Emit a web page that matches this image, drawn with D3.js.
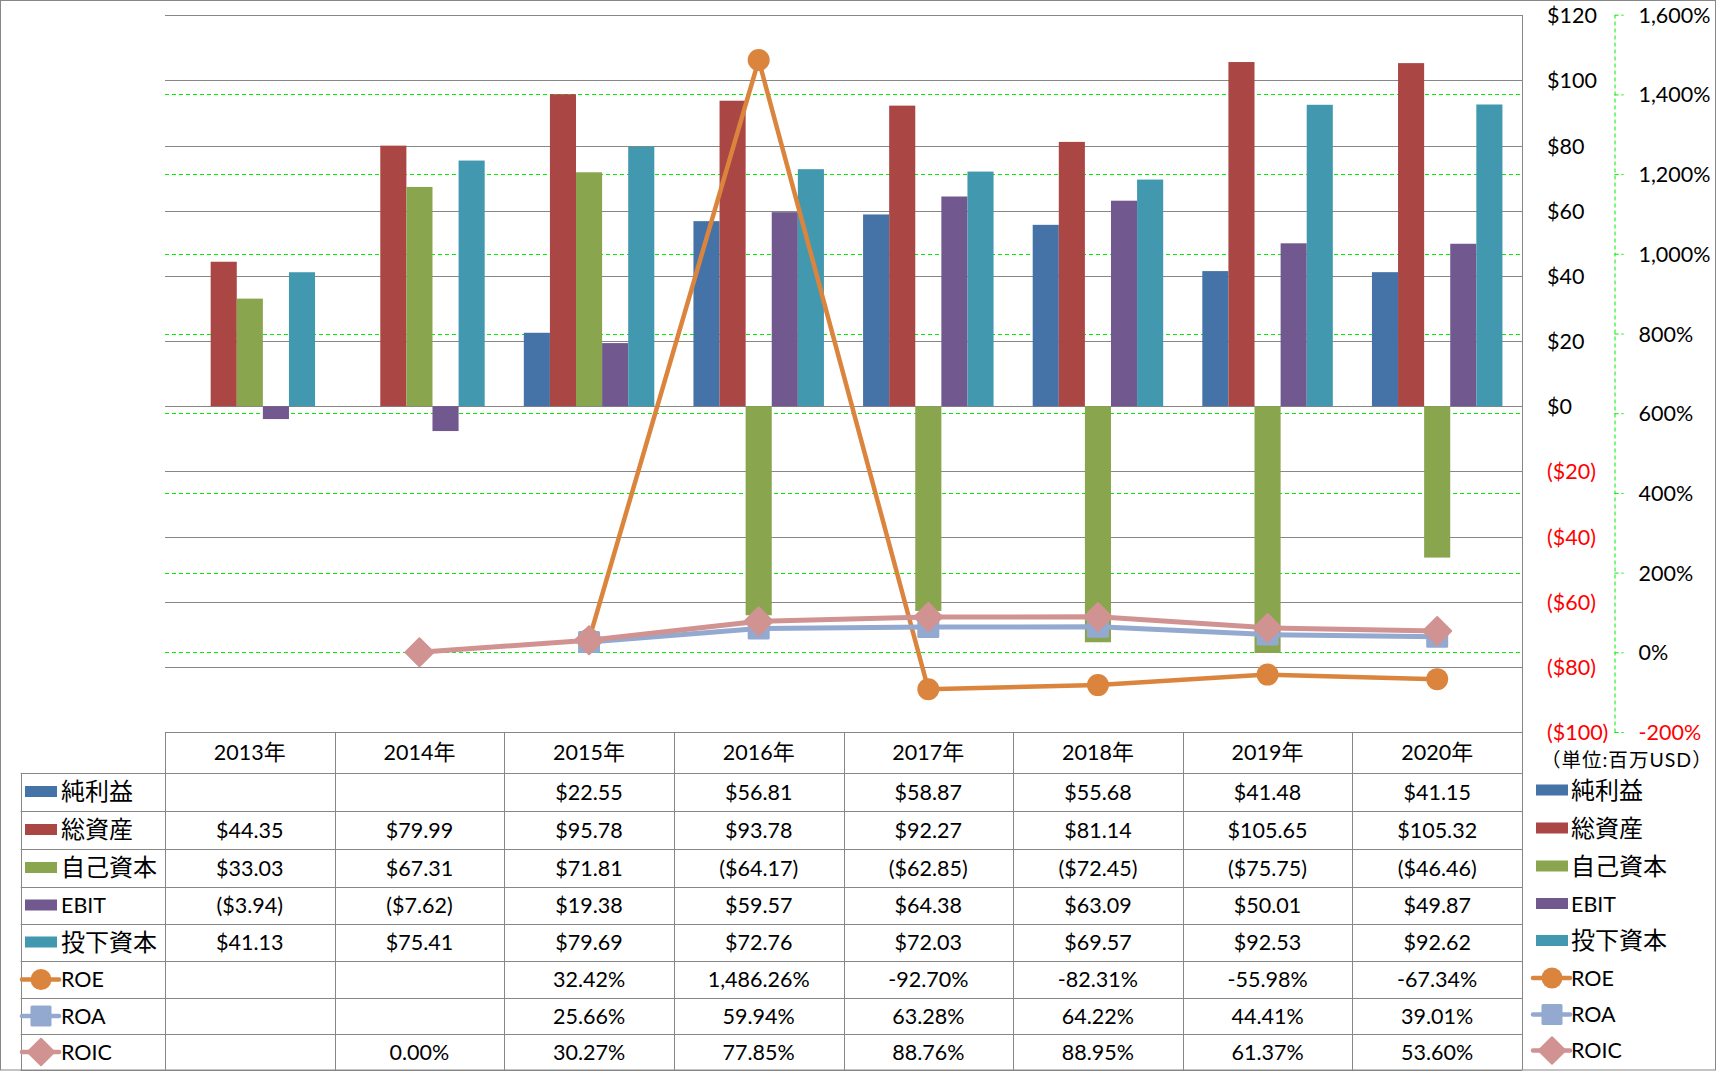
<!DOCTYPE html>
<html><head><meta charset="utf-8">
<script src="https://cdn.jsdelivr.net/npm/d3@7"></script>
<style>
html,body{margin:0;padding:0;background:#fff;}
svg{display:block;}
text{font-family:Lato,"Noto Sans CJK JP",sans-serif;fill:#000;}
</style></head><body>
<svg id="chart" width="1716" height="1071"></svg>
<script>
// ---------------- data ----------------
const years = ["2013","2014","2015","2016","2017","2018","2019","2020"];
const yearSuffix = "年";
const barSeries = ["純利益","総資産","自己資本","EBIT","投下資本"];
const lineSeries = ["ROE","ROA","ROIC"];
const netIncome       = [null, null, 22.55, 56.81, 58.87, 55.68, 41.48, 41.15];
const totalAssets     = [44.35, 79.99, 95.78, 93.78, 92.27, 81.14, 105.65, 105.32];
const equity          = [33.03, 67.31, 71.81, -64.17, -62.85, -72.45, -75.75, -46.46];
const ebit            = [-3.94, -7.62, 19.38, 59.57, 64.38, 63.09, 50.01, 49.87];
const investedCapital = [41.13, 75.41, 79.69, 72.76, 72.03, 69.57, 92.53, 92.62];
const roe  = [null, null, 32.42, 1486.26, -92.70, -82.31, -55.98, -67.34];
const roa  = [null, null, 25.66, 59.94, 63.28, 64.22, 44.41, 39.01];
const roic = [null, 0.00, 30.27, 77.85, 88.76, 88.95, 61.37, 53.60];
const yTicks  = [120, 100, 80, 60, 40, 20, 0, -20, -40, -60, -80, -100];
const y2Ticks = [1600, 1400, 1200, 1000, 800, 600, 400, 200, 0, -200];
const unitLabel = "（単位:百万USD）";

// ---------------- styling / layout ----------------
const barValues = [netIncome, totalAssets, equity, ebit, investedCapital];
const lineValues = [roe, roa, roic];
const barColors = ["#4572A7", "#AA4643", "#89A54E", "#71588F", "#4198AF"];
const lineColors = ["#DB843D", "#93A9CF", "#D19392"];
const markerTypes = ["circle", "square", "diamond"];
const lineWidths = [4.5, 5, 5];
const GRAY = "#878787";
const GREEN = "#00EE00";
const FS = 21.5, FS_JP = 24;

const svg = d3.select("#chart");
const W = 1716, H = 1071;
const plotL = 165, plotR = 1522, plotT = 15.3, plotB = 732;
const rowEdges = [732, 773, 811, 849, 887, 924, 961, 998, 1034, 1070];
const legendL = 20.7;

const x = d3.scaleBand().domain(years).range([plotL, plotR]).padding(0);
const x1 = d3.scaleBand().domain(barSeries).range([0, x.bandwidth()]).paddingInner(0).paddingOuter(0.75);
const y = d3.scaleLinear().domain([-100, 120]).range([plotB, plotT]);
const y2 = d3.scaleLinear().domain([-200, 1600]).range([plotB, plotT - 0.6]);

const f2 = d3.format(",.2f");
const money = v => v == null ? "" : (v < 0 ? "($" + f2(-v) + ")" : "$" + f2(v));
const pct = v => v == null ? "" : (v < 0 ? "-" + f2(-v) : f2(v)) + "%";

// outer border
svg.append("rect").attr("x", 0.5).attr("y", 0.5).attr("width", W - 1).attr("height", H - 1.5)
  .attr("fill", "#fff").attr("stroke", GRAY);

// gray gridlines
svg.append("g").selectAll("line").data(yTicks).join("line")
  .attr("x1", plotL).attr("x2", plotR)
  .attr("y1", d => Math.round(y(d)) + 0.5).attr("y2", d => Math.round(y(d)) + 0.5)
  .attr("stroke", GRAY).attr("stroke-width", 1);

// green dashed secondary gridlines
svg.append("g").selectAll("line").data(y2Ticks.filter(d => d < 1600 && d > -200)).join("line")
  .attr("x1", plotL).attr("x2", plotR)
  .attr("y1", d => Math.round(y2(d)) + 0.5).attr("y2", d => Math.round(y2(d)) + 0.5)
  .attr("stroke", GREEN).attr("stroke-width", 1).attr("stroke-dasharray", "4,3");

// bars
const barData = [];
years.forEach((yr, i) => barSeries.forEach((s, j) => {
  const v = barValues[j][i];
  if (v != null) barData.push({yr, s, v, c: barColors[j]});
}));
svg.append("g").selectAll("rect").data(barData).join("rect")
  .attr("x", d => x(d.yr) + x1(d.s))
  .attr("width", x1.bandwidth())
  .attr("y", d => y(Math.max(0, d.v)))
  .attr("height", d => Math.abs(y(d.v) - y(0)))
  .attr("fill", d => d.c);

// marker drawing helper
function marker(g, type, color, cx, cy, scale) {
  scale = scale || 1;
  if (type === "circle") {
    g.append("circle").attr("cx", cx).attr("cy", cy).attr("r", 11 * scale).attr("fill", color);
  } else if (type === "square") {
    const s = 19 * scale;
    g.append("rect").attr("x", cx - s / 2).attr("y", cy - s / 2).attr("width", s).attr("height", s)
      .attr("fill", color).attr("stroke", color).attr("stroke-width", 3).attr("stroke-linejoin", "round");
  } else {
    const r = 14 * scale;
    g.append("path").attr("d", `M${cx},${cy - r}L${cx + r},${cy}L${cx},${cy + r}L${cx - r},${cy}Z`)
      .attr("fill", color).attr("stroke", color).attr("stroke-width", 2).attr("stroke-linejoin", "round");
  }
}

// lines
const cx = yr => x(yr) + x.bandwidth() / 2;
lineSeries.forEach((s, k) => {
  const pts = years.map((yr, i) => ({yr, v: lineValues[k][i]}));
  const g = svg.append("g");
  const line = d3.line().defined(d => d.v != null).x(d => cx(d.yr)).y(d => y2(d.v));
  g.append("path").datum(pts).attr("d", line).attr("fill", "none")
    .attr("stroke", lineColors[k]).attr("stroke-width", lineWidths[k]).attr("stroke-linejoin", "round");
  pts.filter(d => d.v != null).forEach(d => marker(g, markerTypes[k], lineColors[k], cx(d.yr), y2(d.v)));
});

// primary axis (right)
const yAxisG = svg.append("g").attr("transform", `translate(${plotR},0)`)
  .call(d3.axisRight(y).tickValues(yTicks).tickSize(0).tickPadding(25)
    .tickFormat(v => v < 0 ? "($" + (-v) + ")" : "$" + v));
yAxisG.select(".domain").remove();
yAxisG.selectAll("text").attr("font-size", FS).attr("font-family", "Lato")
  .style("fill", d => d < 0 ? "#FF0000" : "#000").attr("dy", "0.35em");

// right vertical gray line
svg.append("line").attr("x1", plotR + 0.5).attr("x2", plotR + 0.5).attr("y1", Math.round(plotT)).attr("y2", 1070)
  .attr("stroke", GRAY);

// secondary axis
const ax2x = 1614.5;
const y2AxisG = svg.append("g").attr("transform", `translate(${ax2x},0)`)
  .call(d3.axisRight(y2).tickValues(y2Ticks).tickSize(9).tickSizeOuter(0).tickPadding(15)
    .tickFormat(v => (v < 0 ? "-" + d3.format(",")(-v) : d3.format(",")(v)) + "%"));
y2AxisG.select(".domain").attr("stroke", GREEN).attr("stroke-dasharray", "4,3");
y2AxisG.selectAll(".tick line").attr("stroke", GREEN).attr("stroke-dasharray", "4,3");
y2AxisG.selectAll("text").attr("font-size", FS).attr("font-family", "Lato")
  .style("fill", d => d < 0 ? "#FF0000" : "#000").attr("dy", "0.35em");

// ---------------- data table ----------------
const tbl = svg.append("g");
tbl.selectAll("line.h").data(rowEdges.slice(1)).join("line").attr("class", "h")
  .attr("x1", legendL).attr("x2", plotR)
  .attr("y1", d => d + 0.5).attr("y2", d => d + 0.5).attr("stroke", GRAY);
const colEdges = years.map(yr => x(yr)).concat([plotR]);
tbl.selectAll("line.v").data(colEdges).join("line").attr("class", "v")
  .attr("x1", d => Math.round(d) + 0.5).attr("x2", d => Math.round(d) + 0.5)
  .attr("y1", rowEdges[0]).attr("y2", rowEdges[rowEdges.length - 1]).attr("stroke", GRAY);
tbl.append("line").attr("x1", Math.round(legendL) + 0.5).attr("x2", Math.round(legendL) + 0.5)
  .attr("y1", rowEdges[1]).attr("y2", rowEdges[rowEdges.length - 1]).attr("stroke", GRAY);

const rowC = i => (rowEdges[i] + rowEdges[i + 1]) / 2;
years.forEach(yr => {
  const t = tbl.append("text").attr("x", cx(yr)).attr("y", rowC(0)).attr("dy", "0.35em")
    .attr("text-anchor", "middle").attr("font-size", FS);
  t.append("tspan").text(yr);
  t.append("tspan").attr("font-size", 22).text(yearSuffix);
});
const allSeries = barSeries.concat(lineSeries);
const allValues = barValues.concat(lineValues);
allSeries.forEach((s, r) => {
  const isBar = r < barSeries.length;
  years.forEach((yr, i) => {
    const v = allValues[r][i];
    tbl.append("text").attr("x", cx(yr)).attr("y", rowC(r + 1)).attr("dy", "0.35em")
      .attr("text-anchor", "middle").attr("font-size", FS)
      .text(isBar ? money(v) : pct(v));
  });
});

function legendEntry(g, s, r, sx, tx, yc) {
  if (r < barSeries.length) {
    g.append("rect").attr("x", sx).attr("y", yc - 6).attr("width", 32).attr("height", 11).attr("fill", barColors[r]);
  } else {
    const k = r - barSeries.length;
    g.append("line").attr("x1", sx - 3).attr("x2", sx + 34).attr("y1", yc).attr("y2", yc)
      .attr("stroke", lineColors[k]).attr("stroke-width", 4.5).attr("stroke-linecap", "round");
    marker(g, markerTypes[k], lineColors[k], sx + 16, yc, 0.95);
  }
  const isJP = /[^\x00-\x7F]/.test(s);
  g.append("text").attr("x", tx).attr("y", yc).attr("dy", "0.35em")
    .attr("font-size", isJP ? FS_JP : FS).text(s);
}
const legL = svg.append("g");
allSeries.forEach((s, r) => legendEntry(legL, s, r, 25, 61, rowC(r + 1)));
const legR = svg.append("g");
allSeries.forEach((s, r) => legendEntry(legR, s, r, 1536, 1571, rowC(r + 1) - 1.5));

svg.append("text").attr("x", 1541).attr("y", 760).attr("dy", "0.35em")
  .attr("font-size", 19.5).attr("letter-spacing", 1).attr("font-family", "'Noto Sans CJK JP'").text(unitLabel);
</script>
</body></html>
